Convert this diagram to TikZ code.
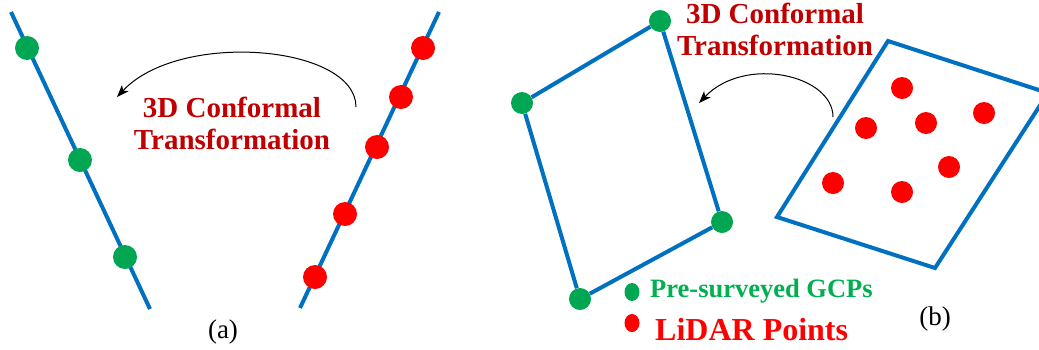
\documentclass[tikz,border=0pt]{standalone}
\usepackage{fontspec}
\setmainfont{Liberation Serif}
\usetikzlibrary{positioning, shapes.geometric, arrows.meta}

\definecolor{gcpgreen}{RGB}{0,166,81}
\definecolor{textgreen}{RGB}{0,176,80}
\definecolor{titlered}{RGB}{192,0,0}
\definecolor{lineblue}{RGB}{0,112,192}

\begin{document}
\begin{tikzpicture}[x=1pt, y=-1pt,
  gcp/.style={circle, fill=gcpgreen, inner sep=0pt, minimum size=22pt},
  lidar/.style={circle, fill=red, inner sep=0pt, minimum size=22pt},
  big/.style={minimum size=24pt},
  key/.style={ellipse, inner sep=0pt, minimum width=15pt, minimum height=18pt},
  edge/.style={draw=lineblue, line width=4pt},
  turn/.style={-{Stealth[length=12pt, width=9pt, inset=3pt]}, line width=1pt},
  title/.style={font=\bfseries\fontsize{29}{32}\selectfont, text=titlered, inner sep=0pt, anchor=base},
  caption/.style={font=\fontsize{27}{30}\selectfont, inner sep=0pt, anchor=base}]
  \useasboundingbox (0,0) rectangle (1039,349);

  % (a) lines before and after
  \coordinate (a0) at (11,12);
  \coordinate (a1) at (150,309);
  \coordinate (b0) at (300,308);
  \coordinate (b1) at (439,12);
  \draw[edge] (a0) -- (a1);
  \draw[edge] (b0) -- (b1);
  \node[gcp, big] (g1) at (27,48) {};
  \node[gcp, big] (g2) at (80,160) {};
  \node[gcp, big] (g3) at (125,257) {};
  \node[lidar, big] (p1) at (423,48) {};
  \node[lidar, big] (p2) at (401,97) {};
  \node[lidar, big] (p3) at (377,147) {};
  \node[lidar, big] (p4) at (345,214) {};
  \node[lidar, big] (p5) at (315,277) {};
  \coordinate (s1) at (356,107);
  \coordinate (e1) at (117,97);
  \draw[turn] (s1) .. controls (356,45) and (180,30) .. (e1);
  \node[title] (t1) at (232,117) {3D Conformal};
  \node[title] (t2) at (232,149) {Transformation};
  \node[caption] (ca) at (223,338) {(a)};

  % (b) patches
  \node[gcp] (q1) at (660,21) {};
  \node[gcp] (q2) at (522,103) {};
  \node[gcp] (q3) at (580,299) {};
  \node[gcp] (q4) at (722,222) {};
  \draw[edge] (q1) -- (q2) -- (q3) -- (q4) -- (q1);
  \coordinate (r1) at (888,41);
  \coordinate (r2) at (1048,93);
  \coordinate (r3) at (935,268);
  \coordinate (r4) at (777,217);
  \draw[edge, line join=miter] (r1) -- (r2) -- (r3) -- (r4) -- cycle;
  \node[lidar] (d1) at (902,88) {};
  \node[lidar] (d2) at (866,128) {};
  \node[lidar] (d3) at (926,123) {};
  \node[lidar] (d4) at (984,113) {};
  \node[lidar] (d5) at (833,183) {};
  \node[lidar] (d6) at (902,192) {};
  \node[lidar] (d7) at (949,167) {};
  \coordinate (s2) at (833,117);
  \coordinate (e2) at (699,103);
  \draw[turn] (s2) .. controls (833,75) and (745,55) .. (e2);
  \node[title] (t3) at (775,23) {3D Conformal};
  \node[title] (t4) at (775,55) {Transformation};

  % legend
  \node[key, fill=gcpgreen] (k1) at (632,292) {};
  \node[key, fill=red] (k2) at (632,323) {};
  \node[font=\bfseries\fontsize{26.5}{30}\selectfont, text=textgreen, inner sep=0pt, anchor=base west] (l1) at (650,297) {Pre-surveyed GCPs};
  \node[font=\bfseries\fontsize{32}{36}\selectfont, text=red, inner sep=0pt, anchor=base west] (l2) at (655,340) {LiDAR Points};
  \node[caption] (cb) at (935,325) {(b)};
\end{tikzpicture}
\end{document}
